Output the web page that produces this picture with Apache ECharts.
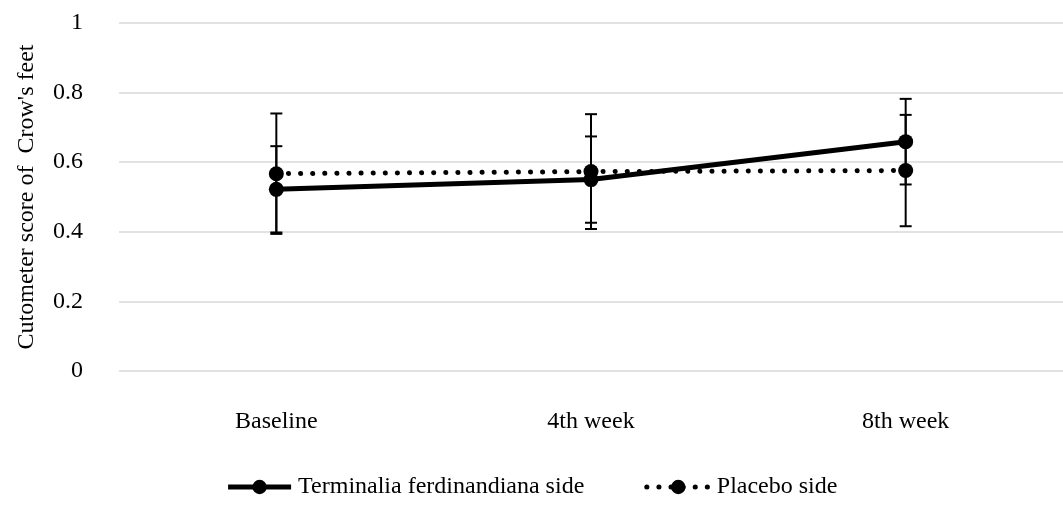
<!DOCTYPE html>
<html>
<head>
<meta charset="utf-8">
<script src="https://cdn.jsdelivr.net/npm/echarts@6/dist/echarts.min.js"></script>
<style>html,body{margin:0;padding:0;background:#fff}#c{width:1063px;height:506px}</style>
</head>
<body>
<div id="c"></div>
<script>
var categories = ['Baseline', '4th week', '8th week'];
var terminaliaMean = [0.522, 0.550, 0.659];
var terminaliaErr = [0.124, 0.124, 0.123];
var placeboMean = [0.567, 0.573, 0.576];
var placeboErr = [0.173, 0.165, 0.160];
var yTicks = [0, 0.2, 0.4, 0.6, 0.8, 1];

var FONT = '"Liberation Serif", "Times New Roman", serif';
var FS = 24;
var DOTS = [0.1, 12];

function errData(mean, err) {
  return mean.map(function (m, i) { return [i, m - err[i], m + err[i]]; });
}

function errRender(params, api) {
  var x = api.value(0);
  var lo = api.coord([x, api.value(1)]);
  var hi = api.coord([x, api.value(2)]);
  var hw = 6;
  var st = { stroke: '#000', lineWidth: 2 };
  return {
    type: 'group',
    children: [
      { type: 'line', shape: { x1: lo[0], y1: lo[1], x2: hi[0], y2: hi[1] }, style: st },
      { type: 'line', shape: { x1: lo[0] - hw, y1: lo[1], x2: lo[0] + hw, y2: lo[1] }, style: st },
      { type: 'line', shape: { x1: hi[0] - hw, y1: hi[1], x2: hi[0] + hw, y2: hi[1] }, style: st }
    ]
  };
}

var chart = echarts.init(document.getElementById('c'));
chart.setOption({
  animation: false,
  backgroundColor: '#fff',
  grid: { left: 119, right: 0, top: 23, bottom: 135 },
  legend: {
    bottom: 2,
    left: 'center',
    itemWidth: 63,
    itemHeight: 18,
    itemGap: 60,
    textStyle: { fontFamily: FONT, fontSize: FS, color: '#000', padding: [0, 0, 0, 2] },
    data: [
      { name: 'Terminalia ferdinandiana side', lineStyle: { width: 5, color: '#000' } },
      { name: 'Placebo side', lineStyle: { width: 5, color: '#000', type: DOTS, cap: 'round' } }
    ]
  },
  xAxis: {
    type: 'category',
    data: categories,
    boundaryGap: true,
    axisLine: { show: false },
    axisTick: { show: false },
    axisLabel: { fontFamily: FONT, fontSize: FS, color: '#000', margin: 39 }
  },
  yAxis: {
    type: 'value',
    min: yTicks[0],
    max: yTicks[yTicks.length - 1],
    interval: 0.2,
    name: "Cutometer score of  Crow's feet",
    nameLocation: 'middle',
    nameGap: 80,
    nameTextStyle: { fontFamily: FONT, fontSize: FS, color: '#000' },
    axisLine: { show: false },
    axisTick: { show: false },
    axisLabel: { fontFamily: FONT, fontSize: FS, color: '#000', margin: 36 },
    splitLine: { lineStyle: { color: '#d9d9d9', width: 1.5 } }
  },
  series: [
    {
      name: 'Terminalia ferdinandiana side',
      type: 'line',
      data: terminaliaMean,
      symbol: 'circle',
      symbolSize: 15,
      itemStyle: { color: '#000' },
      lineStyle: { color: '#000', width: 5 },
      z: 3
    },
    {
      name: 'Placebo side',
      type: 'line',
      data: placeboMean,
      symbol: 'circle',
      symbolSize: 15,
      itemStyle: { color: '#000' },
      lineStyle: { color: '#000', width: 5, type: DOTS, cap: 'round' },
      z: 3
    },
    {
      type: 'custom',
      renderItem: errRender,
      data: errData(terminaliaMean, terminaliaErr),
      encode: { x: 0, y: [1, 2] },
      z: 2,
      silent: true
    },
    {
      type: 'custom',
      renderItem: errRender,
      data: errData(placeboMean, placeboErr),
      encode: { x: 0, y: [1, 2] },
      z: 2,
      silent: true
    }
  ]
});
</script>
</body>
</html>
